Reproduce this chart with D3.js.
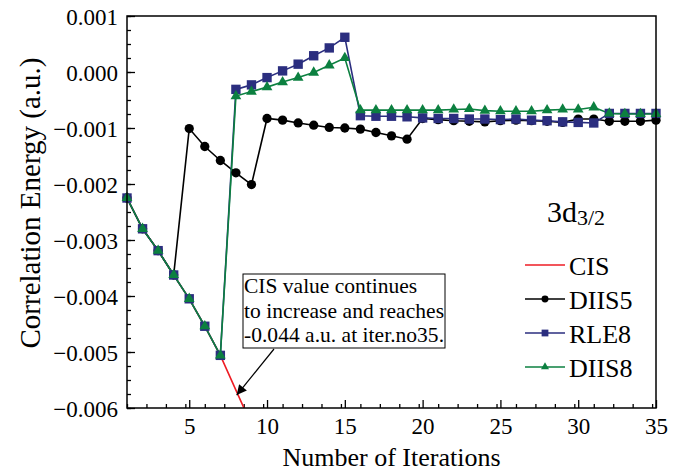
<!DOCTYPE html>
<html lang="en">
<head>
<meta charset="UTF-8">
<script src="https://d3js.org/d3.v7.min.js"></script>
<title>Correlation Energy 3d3/2</title>
<style>
  body { margin: 0; background: #fff; }
</style>
</head>
<body>
<div id="chart"></div>
<script>
// iteration numbers
var iters = d3.range(1, 36);

// correlation energy (a.u.)
var cis = [-0.00225, -0.0028, -0.00319, -0.003625, -0.00405, -0.00454, -0.00506,
  -0.00568, -0.0063, -0.0069];
var diis5 = [-0.00225, -0.0028, -0.00319, -0.003625, -0.00101, -0.00133, -0.00158,
  -0.0018, -0.00201, -0.00083, -0.00086, -0.00091, -0.00095, -0.00099, -0.001,
  -0.00102, -0.00108, -0.00114, -0.0012, -0.00083, -0.00085, -0.00087, -0.00088,
  -0.00089, -0.00087, -0.00086, -0.00087, -0.00088, -0.0009, -0.00084, -0.00084,
  -0.00088, -0.00088, -0.00088, -0.00086];
var rle8 = [-0.00225, -0.0028, -0.00319, -0.003625, -0.00405, -0.00454, -0.00506,
  -0.00031, -0.00023, -0.0001, 0.00002, 0.00014, 0.00029, 0.00043, 0.00062,
  -0.00078, -0.00079, -0.00079, -0.0008, -0.00082, -0.00083, -0.00083, -0.00084,
  -0.00084, -0.00085, -0.00084, -0.00086, -0.00087, -0.00089, -0.0009, -0.00091,
  -0.00074, -0.00074, -0.00074, -0.00074];
var diis8 = [-0.00225, -0.0028, -0.00319, -0.003625, -0.00405, -0.00454, -0.00506,
  -0.00043, -0.00035, -0.00027, -0.00018, -0.0001, -0.00001, 0.00012, 0.00025,
  -0.00068, -0.00068, -0.00068, -0.00068, -0.00068, -0.00068, -0.00067, -0.00066,
  -0.00069, -0.0007, -0.0007, -0.0007, -0.00068, -0.00067, -0.00067, -0.00063,
  -0.00074, -0.00075, -0.00075, -0.00075];

var xTicks = [5, 10, 15, 20, 25, 30, 35];
var yTicks = [0.001, 0, -0.001, -0.002, -0.003, -0.004, -0.005, -0.006];

var series = [
  { name: "CIS", values: cis, color: "#ee1c24", symbol: null },
  { name: "DIIS5", values: diis5, color: "#000000", symbol: d3.symbolCircle },
  { name: "RLE8", values: rle8, color: "#2b2e7f", symbol: d3.symbolSquare },
  { name: "DIIS8", values: diis8, color: "#0c8040", symbol: d3.symbolTriangle }
];
var markSize = { DIIS5: 68, RLE8: 88, DIIS8: 50 };
var legSize = { DIIS5: 38, RLE8: 46, DIIS8: 28 };

var serif = "'Liberation Serif', 'Times New Roman', serif";

var margin = { top: 16, right: 27, bottom: 66, left: 127 },
    width = 683 - margin.left - margin.right,
    height = 474 - margin.top - margin.bottom;

var svg = d3.select("#chart").append("svg")
    .attr("width", 683).attr("height", 474)
    .attr("font-family", serif);
var g = svg.append("g")
    .attr("transform", "translate(" + margin.left + "," + margin.top + ")");

var x = d3.scaleLinear().domain([1, 35]).range([0, width]);
var y = d3.scaleLinear().domain([-0.006, 0.001]).range([height, 0]);

g.append("clipPath").attr("id", "plot-clip")
  .append("rect").attr("width", width).attr("height", height);

// axes: ticks point inward, minor ticks in between
var xMinor = d3.range(1, 35.01, 1.25);
var yMinor = d3.range(-0.006, 0.00101, 0.00025);

var xAxis = g.append("g").attr("transform", "translate(0," + height + ")");
xAxis.call(d3.axisBottom(x).tickValues(xMinor).tickSize(-4).tickFormat(""));
xAxis.append("g").call(d3.axisBottom(x).tickValues(xTicks).tickSize(-8)
    .tickFormat(d3.format("d")));
xAxis.selectAll(".domain").remove();
xAxis.selectAll("g").attr("font-family", serif);
xAxis.attr("font-family", serif);
xAxis.selectAll("line").attr("stroke", "#000").attr("stroke-width", 1.3);
xAxis.selectAll("text").attr("y", 26).attr("dy", 0)
    .attr("font-family", serif).attr("font-size", 23).attr("fill", "#000");

var fmtY = function (d) {
  var s = Math.abs(d).toFixed(3);
  return d < 0 ? "\u2212" + s : s;
};
var yAxis = g.append("g");
yAxis.call(d3.axisLeft(y).tickValues(yMinor).tickSize(-4).tickFormat(""));
yAxis.append("g").call(d3.axisLeft(y).tickValues(yTicks).tickSize(-8).tickFormat(fmtY));
yAxis.selectAll(".domain").remove();
yAxis.attr("font-family", serif);
yAxis.selectAll("g").attr("font-family", serif);
yAxis.selectAll("line").attr("stroke", "#000").attr("stroke-width", 1.3);
yAxis.selectAll("text").attr("x", -9).attr("dy", "0.36em")
    .attr("font-family", serif).attr("font-size", 23).attr("fill", "#000");

// series lines and markers
var line = d3.line()
    .x(function (d, i) { return x(iters[i]); })
    .y(function (d) { return y(d); });

var plot = g.append("g").attr("clip-path", "url(#plot-clip)");
series.forEach(function (s) {
  plot.append("path")
    .datum(s.values)
    .attr("fill", "none")
    .attr("stroke", s.color)
    .attr("stroke-width", 1.6)
    .attr("d", line);
  if (s.symbol) {
    g.append("g").selectAll("path")
      .data(s.values)
      .enter().append("path")
      .attr("transform", function (d, i) {
        return "translate(" + x(iters[i]) + "," + y(d) + ")";
      })
      .attr("d", d3.symbol().type(s.symbol).size(markSize[s.name]))
      .attr("fill", s.color);
  }
});

// frame
g.append("rect")
  .attr("width", width).attr("height", height)
  .attr("fill", "none").attr("stroke", "#000").attr("stroke-width", 1.5);

// axis titles
svg.append("text")
  .attr("x", margin.left + width / 2).attr("y", 466)
  .attr("text-anchor", "middle")
  .attr("font-size", 26)
  .text("Number of Iterations");

svg.append("text")
  .attr("transform", "translate(40,203) rotate(-90)")
  .attr("text-anchor", "middle")
  .attr("font-size", 29)
  .text("Correlation Energy (a.u.)");

// state label
var lab = svg.append("text").attr("x", 547).attr("y", 222).attr("font-size", 30);
lab.append("tspan").text("3d");
lab.append("tspan").attr("dy", 3).attr("font-size", 22).text("3/2");

// legend
var legend = svg.append("g").attr("transform", "translate(525,265)");
series.forEach(function (s, i) {
  var row = legend.append("g").attr("transform", "translate(0," + (i * 34) + ")");
  row.append("line").attr("x1", 0).attr("x2", 40)
    .attr("stroke", s.color).attr("stroke-width", 1.6);
  if (s.symbol) {
    row.append("path").attr("transform", "translate(20,0)")
      .attr("d", d3.symbol().type(s.symbol).size(legSize[s.name]))
      .attr("fill", s.color);
  }
  row.append("text").attr("x", 44).attr("y", 10)
    .attr("font-size", 26).text(s.name);
});

// annotation about the CIS curve
var note = svg.append("g");
note.append("rect")
  .attr("x", 243).attr("y", 274).attr("width", 202).attr("height", 74)
  .attr("fill", "#fff").attr("stroke", "#000").attr("stroke-width", 1);
var noteLines = ["CIS value continues", "to increase and reaches", "-0.044 a.u. at iter.no35."];
note.selectAll("text.n").data(noteLines).enter().append("text")
  .attr("class", "n")
  .attr("x", 244).attr("y", function (d, i) { return 293 + i * 24.5; })
  .attr("font-size", 21.5)
  .attr("textLength", function (d, i) { return i === 0 ? null : 200; })
  .text(function (d) { return d; });

svg.append("defs").append("marker")
  .attr("id", "arrow").attr("viewBox", "0 0 10 10")
  .attr("refX", 10).attr("refY", 5)
  .attr("markerWidth", 14).attr("markerHeight", 10)
  .attr("markerUnits", "userSpaceOnUse")
  .attr("orient", "auto")
  .append("path").attr("d", "M0,0L10,5L0,10z").attr("fill", "#000");

var tipX = margin.left + x(8.05), tipY = margin.top + y(-0.00577);
note.append("line")
  .attr("x1", 274).attr("y1", 349).attr("x2", tipX).attr("y2", tipY)
  .attr("stroke", "#000").attr("stroke-width", 1.2)
  .attr("marker-end", "url(#arrow)");
</script>
</body>
</html>
